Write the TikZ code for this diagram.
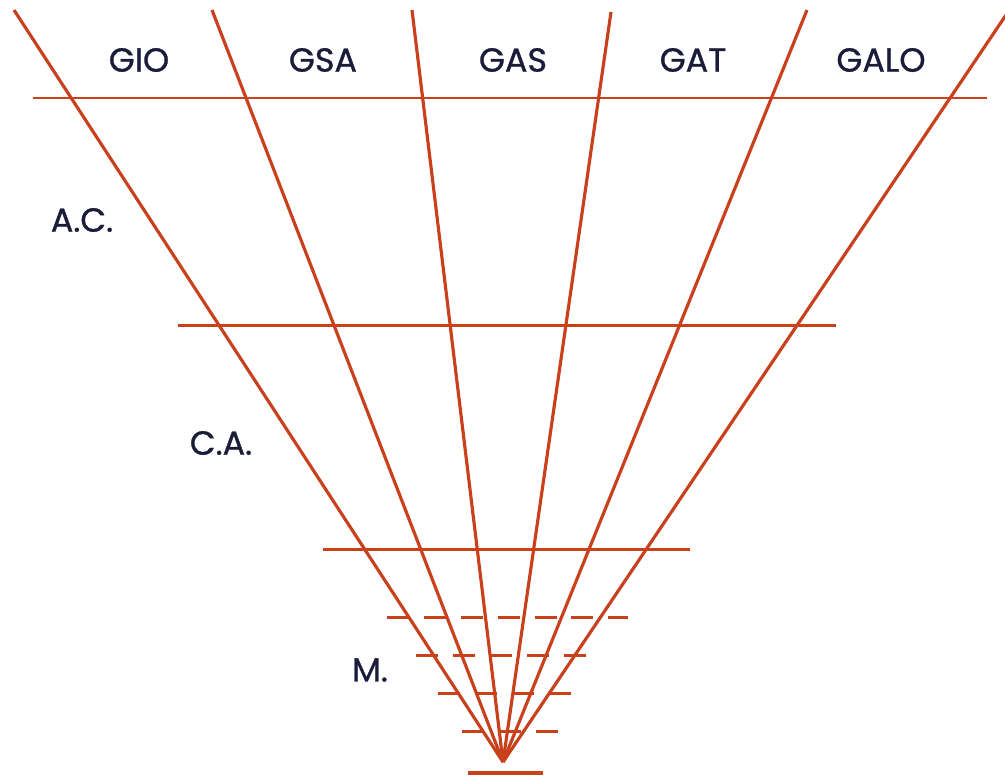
\documentclass[tikz,border=0pt]{standalone}
\usepackage{fontspec}
\setmainfont{Poppins}
\newfontfamily\labfont{Poppins}[FakeBold=0.9]

\definecolor{rayred}{HTML}{C8401C}
\definecolor{ink}{HTML}{1B1B3A}

\tikzset{
  ray/.style={draw=rayred, line width=1.8pt},     % rays from the apex
  lvl/.style={draw=rayred, line width=1.7pt},     % full levels
  dlvl/.style={lvl, dash pattern=on 12.5pt off 8.5pt}, % broken levels
  lab/.style={text=ink, inner sep=0pt, font=\labfont\fontsize{19}{20}\selectfont},
}

\begin{document}
\begin{tikzpicture}[x=0.02cm, y=-0.02cm]
	\useasboundingbox (0,0) rectangle (1005,775);

	% apex and tops of the rays
	\coordinate (apex) at (503,762);
	\coordinate (t1) at (14,10);
	\coordinate (t2) at (212,10);
	\coordinate (t3) at (412,10);
	\coordinate (t4) at (611,12);
	\coordinate (t5) at (807,10);
	\coordinate (t6) at (1008,12);

	% rays
	\foreach \i in {1,...,6}
		\draw[ray] (apex) -- (t\i);

	% levels
	\coordinate (a1) at (33,98);   \coordinate (a2) at (987,98);
	\coordinate (b1) at (178,325); \coordinate (b2) at (836,325);
	\coordinate (c1) at (323,549); \coordinate (c2) at (690,549);
	\draw[lvl] (a1) -- (a2);
	\draw[lvl] (b1) -- (b2);
	\draw[lvl] (c1) -- (c2);

	% broken levels
	\coordinate (d1) at (387,617); \coordinate (d2) at (628,617);
	\coordinate (e1) at (416,655); \coordinate (e2) at (592,655);
	\coordinate (f1) at (438,693); \coordinate (f2) at (576,693);
	\coordinate (g1) at (462,731); \coordinate (g2) at (559,731);
	\draw[dlvl] (d1) -- (d2);
	\draw[dlvl] (e1) -- (e2);
	\draw[dlvl] (f1) -- (f2);
	\draw[dlvl] (g1) -- (g2);

	% base
	\coordinate (h1) at (468,773); \coordinate (h2) at (543,773);
	\draw[draw=rayred, line width=2.2pt] (h1) -- (h2);

	% labels
	\node[lab] (gio)  at (139,60) {GIO};
	\node[lab] (gsa)  at (323,60) {GSA};
	\node[lab] (gas)  at (513,60) {GAS};
	\node[lab] (gat)  at (693,60) {GAT};
	\node[lab] (galo) at (881,60) {GALO};
	\node[lab] (ac)   at (82,220) {A.C.};
	\node[lab] (ca)   at (221,443) {C.A.};
	\node[lab] (m)    at (370,670) {M.};

\end{tikzpicture}
\end{document}
